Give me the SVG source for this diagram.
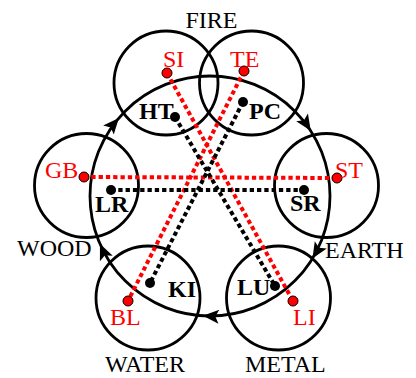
<svg xmlns="http://www.w3.org/2000/svg" width="416" height="378" viewBox="0 0 416 378">
<style>
.c{fill:none;stroke:#000;stroke-width:2.8}
.t{font-family:"Liberation Serif","Times New Roman",serif;font-size:24px;fill:#000}
.b{font-weight:bold}
.r{fill:#ff0000}
.dr{stroke:#ff0000;stroke-width:4;stroke-dasharray:4.3 3;fill:none}
.dk{stroke:#000;stroke-width:4;stroke-dasharray:4.3 3;fill:none}
.pr{fill:#ff0000;stroke:#000;stroke-width:1}
.pk{fill:#000}
</style>
<defs>
<polygon id="ah" points="330,196 323,180 330,183.5 337,180" fill="#000"/>
</defs>
<rect width="416" height="378" fill="#fff"/>
<g id="cycle">
<circle class="c" cx="210" cy="196" r="120"/>
<use href="#ah" transform="rotate(220.6 210 196)"/>
<use href="#ah" transform="rotate(327.1 210 196)"/>
<use href="#ah" transform="rotate(31.4 210 196)"/>
<use href="#ah" transform="rotate(93.4 210 196)"/>
<use href="#ah" transform="rotate(156.5 210 196)"/>
</g>
<g id="fire">
<circle class="c" cx="166" cy="83" r="52"/>
<circle class="c" cx="251.5" cy="83" r="52"/>
<text class="t" x="211.5" y="28" text-anchor="middle">FIRE</text>
</g>
<g id="earth">
<circle class="c" cx="326.5" cy="185.5" r="52"/>
<text class="t" x="325" y="258">EARTH</text>
</g>
<g id="metal">
<circle class="c" cx="278.5" cy="298" r="52"/>
<text class="t" x="245" y="372">METAL</text>
</g>
<g id="water">
<circle class="c" cx="148" cy="298" r="52"/>
<text class="t" x="105" y="372">WATER</text>
</g>
<g id="wood">
<circle class="c" cx="86.5" cy="185.5" r="52"/>
<text class="t" x="17" y="256">WOOD</text>
</g>
<g id="connectors">
<line class="dr" x1="167" y1="73" x2="293" y2="301"/>
<line class="dr" x1="244" y1="71" x2="128" y2="301"/>
<line class="dr" x1="84" y1="177" x2="337" y2="178"/>
<line class="dk" x1="175" y1="117" x2="275" y2="286"/>
<line class="dk" x1="243" y1="102" x2="150" y2="283"/>
<line class="dk" x1="111" y1="190" x2="304" y2="190"/>
</g>
<g id="points">
<circle class="pr" cx="167" cy="73" r="5"/>
<circle class="pr" cx="244" cy="71" r="5"/>
<circle class="pr" cx="84" cy="177" r="5"/>
<circle class="pr" cx="337" cy="178" r="5"/>
<circle class="pr" cx="128" cy="301" r="5"/>
<circle class="pr" cx="293" cy="301" r="5"/>
<circle class="pk" cx="175" cy="117" r="5"/>
<circle class="pk" cx="243" cy="102" r="5"/>
<circle class="pk" cx="111" cy="190" r="5"/>
<circle class="pk" cx="304" cy="190" r="5"/>
<circle class="pk" cx="150" cy="283" r="5"/>
<circle class="pk" cx="275" cy="286" r="5"/>
</g>
<g id="labels">
<text class="t r" x="163" y="67">SI</text>
<text class="t r" x="230" y="67">TE</text>
<text class="t b" x="139" y="119">HT</text>
<text class="t b" x="249" y="119">PC</text>
<text class="t r" x="45" y="178">GB</text>
<text class="t b" x="95" y="212">LR</text>
<text class="t r" x="335" y="178">ST</text>
<text class="t b" x="290" y="211">SR</text>
<text class="t b" x="168" y="297">KI</text>
<text class="t b" x="237" y="295">LU</text>
<text class="t r" x="110" y="325">BL</text>
<text class="t r" x="293" y="325">LI</text>
</g>
</svg>
